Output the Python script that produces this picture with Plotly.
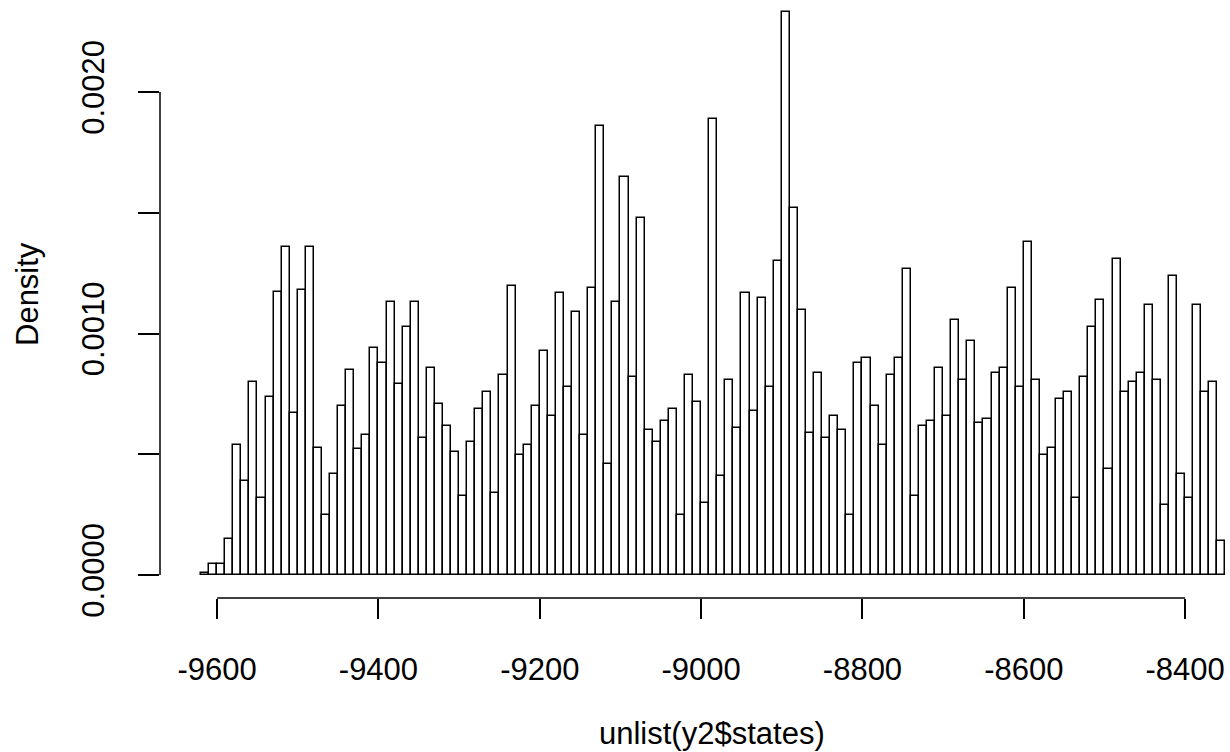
import plotly.graph_objects as go

bin_width = 10
bin_left_edges = list(range(-9620, -8350, bin_width))
density = [
    0.00001, 0.000047, 0.000047, 0.000148, 0.000539, 0.00039, 0.000798, 0.00032, 0.000739, 0.00117,
    0.001359, 0.000669, 0.00118, 0.001359, 0.000528, 0.000249, 0.000419, 0.0007, 0.000849, 0.00052,
    0.00058, 0.000938, 0.000879, 0.00113, 0.000789, 0.001029, 0.00113, 0.000569, 0.000859, 0.000709,
    0.000619, 0.00051, 0.000329, 0.000549, 0.000689, 0.000759, 0.000338, 0.000829, 0.001198, 0.000499,
    0.000538, 0.0007, 0.000929, 0.000659, 0.001169, 0.000779, 0.001088, 0.000578, 0.001189, 0.001859,
    0.000458, 0.00113, 0.00165, 0.00082, 0.001479, 0.0006, 0.000549, 0.000639, 0.000689, 0.000249,
    0.000829, 0.000718, 0.000299, 0.001887, 0.000408, 0.000809, 0.000609, 0.001169, 0.000678, 0.001149,
    0.000779, 0.0013, 0.00233, 0.001519, 0.001099, 0.000589, 0.000838, 0.000569, 0.000659, 0.0006,
    0.000249, 0.000879, 0.000899, 0.0007, 0.000539, 0.000829, 0.000899, 0.001269, 0.000329, 0.000619,
    0.000639, 0.000859, 0.000659, 0.001058, 0.000809, 0.000968, 0.00063, 0.000648, 0.000838, 0.000859,
    0.001189, 0.000779, 0.001379, 0.000809, 0.000499, 0.000528, 0.000729, 0.000759, 0.00032, 0.00082,
    0.001029, 0.001139, 0.000439, 0.001309, 0.000759, 0.000798, 0.000838, 0.00112, 0.000809, 0.000288,
    0.001239, 0.000419, 0.00032, 0.00112, 0.000759, 0.000798, 0.000139,
]
x_ticks = [-9600, -9400, -9200, -9000, -8800, -8600, -8400]
y_ticks = [0.0, 0.0005, 0.0010, 0.0015, 0.0020]
y_tick_text = ["0.0000", "", "0.0010", "", "0.0020"]
x_title = "unlist(y2$states)"
y_title = "Density"

centers = [e + bin_width / 2 for e in bin_left_edges]

FONT = "Liberation Sans, Arial, sans-serif"
FS = 31
W, H = 1230, 752
L, B = 160, 154
PH = H - B  # plot height in px

fig = go.Figure(go.Bar(
    x=centers, y=density, width=bin_width,
    marker=dict(color="white", line=dict(color="black", width=1.5)),
    hoverinfo="x+y",
))

fig.update_layout(
    width=W, height=H,
    margin=dict(l=L, r=0, t=0, b=B, autoexpand=False),
    paper_bgcolor="white", plot_bgcolor="white",
    showlegend=False, bargap=0,
    font=dict(family=FONT, size=FS, color="black"),
    xaxis=dict(
        range=[-9670.8, -8344.4], tickvals=x_ticks, ticktext=[str(v) for v in x_ticks],
        ticks="outside", ticklen=20, tickwidth=1.5, tickcolor="black",
        ticklabelstandoff=24,
        showgrid=False, zeroline=False, showline=False, automargin=False,
        tickfont=dict(size=FS, family=FONT),
    ),
    yaxis=dict(
        range=[-0.0000952, 0.002381], tickvals=y_ticks, ticktext=y_tick_text,
        ticks="outside", ticklen=21, tickwidth=1.5, tickcolor="black",
        ticklabelstandoff=22,
        tickangle=-90, showgrid=False, zeroline=False, showline=False, automargin=False,
        tickfont=dict(size=FS, family=FONT),
    ),
    shapes=[
        dict(type="line", xref="x", yref="paper", x0=x_ticks[0], x1=x_ticks[-1], y0=0, y1=0,
             line=dict(color="black", width=1.5)),
        dict(type="line", xref="paper", yref="y", x0=0, x1=0, y0=y_ticks[0], y1=y_ticks[-1],
             line=dict(color="black", width=1.5)),
    ],
    annotations=[
        dict(text=x_title, xref="paper", yref="paper", x=(712 - L) / (W - L), y=-(733 - PH) / PH,
             showarrow=False, xanchor="center", yanchor="middle", font=dict(size=FS, family=FONT)),
        dict(text=y_title, xref="paper", yref="paper", x=-(L - 27) / (W - L), y=(PH - 294) / PH,
             showarrow=False, xanchor="center", yanchor="middle", textangle=-90,
             font=dict(size=FS, family=FONT)),
    ],
)

fig.write_html(
    "out.html",
    config={"displayModeBar": False},
    post_script="document.body.style.margin='0';document.body.style.overflow='hidden';",
)
